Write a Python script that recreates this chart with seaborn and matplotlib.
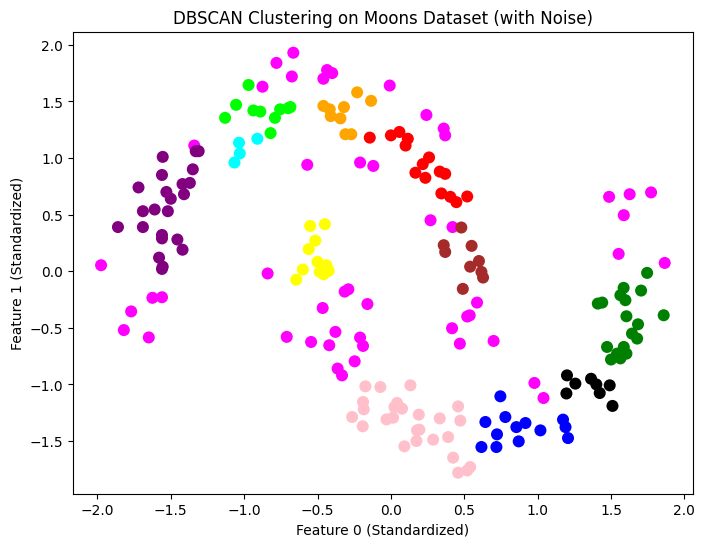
import numpy as np
import pandas as pd
import matplotlib
matplotlib.use("Agg")
import matplotlib.pyplot as plt
import seaborn as sns

# cluster name -> color
cluster_colors = {
    "noise": "magenta", "purple": "purple", "lime": "lime", "cyan": "cyan",
    "orange": "orange", "red": "red", "brown": "brown", "yellow": "yellow",
    "pink": "pink", "blue": "blue", "black": "black", "green": "green",
}

noise_x = [-0.78, -0.665, -0.675, -0.875, -1.34, -1.975, -0.84, -1.625, -1.56, -1.77, -1.82, -1.65,
           -0.71, -0.435, -0.40, -0.46, -0.008, 0.242, 0.36, 0.37, -0.57, -0.21, -0.12, 0.27, 0.42,
           -0.315, -0.29, -0.465, -0.16, 0.587, 0.537, 0.52, 0.417, 0.47, 0.70, -0.544, -0.42,
           -0.378, -0.21, -0.19, -0.247, -0.363, -0.333, 0.978, 1.04, 1.487, 1.627, 1.773, 1.587,
           1.552, 1.866]
noise_y = [1.84, 1.93, 1.72, 1.63, 1.11, 0.053, -0.02, -0.235, -0.23, -0.355, -0.52, -0.585,
           -0.58, 1.777, 1.75, 1.70, 1.64, 1.38, 1.26, 1.20, 0.94, 0.96, 0.93, 0.45, 0.39,
           -0.18, -0.16, -0.325, -0.29, -0.277, -0.39, -0.40, -0.504, -0.64, -0.616, -0.625, -0.654,
           -0.536, -0.586, -0.66, -0.796, -0.86, -0.92, -0.987, -1.12, 0.657, 0.68, 0.696, 0.495,
           0.153, 0.073]

purple_x = [-1.31, -1.33, -1.555, -1.35, -1.56, -1.72, -1.37, -1.42, -1.53, -1.50, -1.41, -1.69,
            -1.61, -1.52, -1.86, -1.69, -1.56, -1.56, -1.455, -1.42, -1.58, -1.555, -1.56]
purple_y = [1.06, 1.06, 1.01, 0.90, 0.85, 0.74, 0.78, 0.77, 0.70, 0.64, 0.68, 0.53,
            0.545, 0.53, 0.39, 0.39, 0.32, 0.29, 0.28, 0.19, 0.12, 0.04, 0.02]

lime_x = [-0.97, -1.055, -1.13, -0.937, -0.89, -0.79, -0.82, -0.755, -0.70, -0.685]
lime_y = [1.645, 1.47, 1.355, 1.42, 1.41, 1.355, 1.22, 1.43, 1.44, 1.45]

cyan_x = [-1.035, -1.03, -1.066, -0.91]
cyan_y = [1.135, 1.04, 0.96, 1.17]

orange_x = [-0.23, -0.135, -0.46, -0.417, -0.32, -0.41, -0.344, -0.31, -0.27]
orange_y = [1.58, 1.505, 1.46, 1.43, 1.45, 1.37, 1.35, 1.21, 1.21]

red_x = [-0.144, 0.0, 0.058, 0.115, 0.10, 0.26, 0.217, 0.167, 0.235, 0.333, 0.37, 0.344, 0.405,
         0.446, 0.52]
red_y = [1.18, 1.20, 1.23, 1.17, 1.11, 1.005, 0.946, 0.87, 0.825, 0.88, 0.86, 0.687, 0.657,
         0.61, 0.66]

brown_x = [0.48, 0.36, 0.37, 0.55, 0.60, 0.54, 0.617, 0.628, 0.49]
brown_y = [0.386, 0.23, 0.17, 0.224, 0.09, 0.04, -0.006, -0.056, -0.156]

yellow_x = [-0.55, -0.45, -0.515, -0.56, -0.50, -0.44, -0.485, -0.424, -0.458, -0.60, -0.645]
yellow_y = [0.40, 0.415, 0.27, 0.195, 0.083, 0.053, -0.006, 0.003, -0.027, 0.015, -0.075]

pink_x = [-0.174, -0.072, 0.133, -0.19, -0.185, -0.264, -0.192, 0.042, 0.024, 0.076, -0.03, 0.015,
          0.19, 0.333, 0.458, 0.473, 0.178, 0.194, 0.174, 0.288, 0.39, 0.092, 0.424, 0.458, 0.52,
          0.54]
pink_y = [-1.017, -1.023, -1.008, -1.155, -1.22, -1.288, -1.37, -1.164, -1.20, -1.214, -1.309,
          -1.294, -1.267, -1.30, -1.194, -1.32, -1.406, -1.40, -1.50, -1.488, -1.465, -1.547,
          -1.647, -1.78, -1.76, -1.73]

blue_x = [0.746, 0.644, 0.78, 0.723, 0.855, 0.917, 0.871, 1.019, 0.617, 0.719, 1.173, 1.19, 1.207]
blue_y = [-1.105, -1.332, -1.288, -1.441, -1.377, -1.341, -1.503, -1.406, -1.553, -1.553, -1.311,
          -1.377, -1.474]

black_x = [1.20, 1.257, 1.196, 1.364, 1.40, 1.423, 1.491, 1.51]
black_y = [-0.92, -0.993, -1.08, -0.95, -1.00, -1.076, -1.008, -1.19]

green_x = [1.746, 1.586, 1.564, 1.598, 1.705, 1.41, 1.44, 1.605, 1.859, 1.684, 1.643, 1.678,
           1.473, 1.587, 1.541, 1.605, 1.50, 1.564]
green_y = [-0.015, -0.147, -0.212, -0.256, -0.171, -0.286, -0.277, -0.398, -0.389, -0.469, -0.551,
           -0.595, -0.669, -0.669, -0.728, -0.728, -0.78, -0.77]

groups = [
    ("noise", noise_x, noise_y), ("purple", purple_x, purple_y), ("lime", lime_x, lime_y),
    ("cyan", cyan_x, cyan_y), ("orange", orange_x, orange_y), ("red", red_x, red_y),
    ("brown", brown_x, brown_y), ("yellow", yellow_x, yellow_y), ("pink", pink_x, pink_y),
    ("blue", blue_x, blue_y), ("black", black_x, black_y), ("green", green_x, green_y),
]
rows = []
for name, xs, ys in groups:
    for a, b in zip(xs, ys):
        rows.append({"x": a, "y": b, "cluster": name})
df = pd.DataFrame(rows)

fig, ax = plt.subplots(figsize=(8, 6), dpi=100)
sns.scatterplot(data=df, x="x", y="y", hue="cluster", palette=cluster_colors,
                s=75, linewidth=0, legend=False, ax=ax)
ax.set_title("DBSCAN Clustering on Moons Dataset (with Noise)")
ax.set_xlabel("Feature 0 (Standardized)")
ax.set_ylabel("Feature 1 (Standardized)")
fig.savefig("out.png", dpi=100, bbox_inches="tight")
